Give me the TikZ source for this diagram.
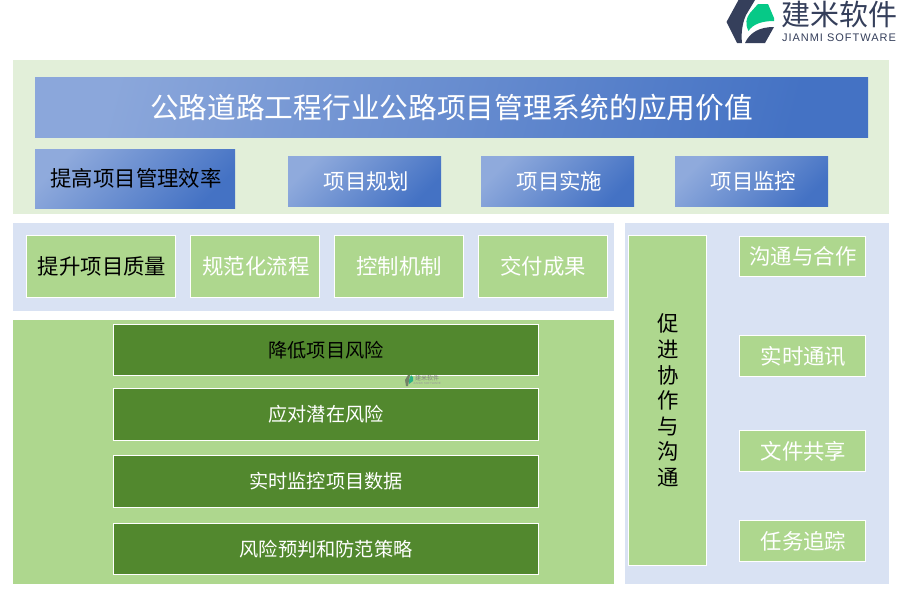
\documentclass[tikz,border=0pt]{standalone}
\usepackage{fontspec}
\usepackage{xcolor}
\setmainfont{Noto Sans CJK SC}
\setsansfont{Liberation Sans}
\newfontfamily\logofont[LetterSpace=9]{Liberation Sans}
\usetikzlibrary{
    positioning,
    shadings
}
\definecolor{panelgreen}{HTML}{E2EFD9}
\definecolor{panelblue}{HTML}{D9E2F3}
\definecolor{leafgreen}{HTML}{AED78E}
\definecolor{darkgreen}{HTML}{52882E}
\definecolor{gradlight}{HTML}{8FAADC}
\definecolor{graddark}{HTML}{4472C4}
\definecolor{logoblue}{HTML}{353F5B}
\definecolor{logogreen}{HTML}{06C987}
\tikzstyle{panel} = [
    rectangle,
    inner sep=0pt,
    outer sep=0pt,
    anchor=north west
]
\tikzstyle{gradbox} = [
    panel,
    align=center,
    text=white,
    font=\fontsize{21.4}{24}\selectfont,
    left color=gradlight,
    middle color=gradlight!80!graddark,
    right color=graddark,
    shading angle=45
]
\tikzstyle{leafbox} = [
    panel,
    draw=white,
    line width=1pt,
    fill=leafgreen,
    align=center,
    text=white,
    font=\fontsize{21.4}{25.6}\selectfont
]
\tikzstyle{riskbox} = [
    panel,
    draw=white,
    line width=1pt,
    fill=darkgreen,
    text=white,
    minimum width=425pt,
    minimum height=51pt,
    font=\fontsize{19.2}{22}\selectfont
]
\tikzset{nudge/.style={execute at begin node=\hspace*{#1}}}
\begin{document}
\begin{tikzpicture}[x=1pt, y=-1pt]
    \useasboundingbox (0,0) rectangle (900,600);
    \fill[white] (0,0) rectangle (900,600);

    \node[panel, fill=panelgreen, minimum width=876pt, minimum height=154pt] (toppanel) at (13,60) {};
    \node[panel, fill=panelblue, minimum width=601pt, minimum height=88pt] (qualitypanel) at (13,223) {};
    \node[panel, fill=leafgreen, minimum width=601pt, minimum height=264pt] (riskpanel) at (13,320) {};
    \node[panel, fill=panelblue, minimum width=264pt, minimum height=361pt] (commpanel) at (625,223) {};

    \node[gradbox, minimum width=833pt, minimum height=60.5pt, font=\fontsize{28.7}{32}\selectfont, left color=gradlight!95!graddark, middle color=gradlight!88!graddark, right color=graddark, shading angle=75] (title) at (35,77) {公路道路工程行业公路项目管理系统的应用价值};
    \node[gradbox, minimum width=200pt, minimum height=59.5pt, text=black, nudge=2pt] (efficiency) at (35,149) {提高项目管理效率};
    \node[gradbox, minimum width=153pt, minimum height=50.5pt, nudge=4pt] (planning) at (288,156) {项目规划};
    \node[gradbox, minimum width=153pt, minimum height=50.5pt, nudge=4pt] (execution) at (481,156) {项目实施};
    \node[gradbox, minimum width=153pt, minimum height=50.5pt, nudge=4pt] (monitoring) at (675,156) {项目监控};

    \node[leafbox, minimum width=149pt, minimum height=62pt, text=black, nudge=2pt] (quality) at (26.5,235.5) {提升项目质量};
    \node[leafbox, minimum width=129pt, minimum height=62pt, nudge=2pt] (process) at (190.5,235.5) {规范化流程};
    \node[leafbox, minimum width=129pt, minimum height=62pt] (control) at (334.5,235.5) {控制机制};
    \node[leafbox, minimum width=129pt, minimum height=62pt] (delivery) at (478.5,235.5) {交付成果};

    \node[riskbox, text=black] (riskdown) at (113.5,324.5) {降低项目风险};
    \node[riskbox, minimum height=52pt] (riskanswer) at (113.5,388.5) {应对潜在风险};
    \node[riskbox, minimum height=52pt] (riskdata) at (113.5,455.5) {实时监控项目数据};
    \node[riskbox] (riskplan) at (113.5,523.5) {风险预判和防范策略};

    \node[leafbox, minimum width=78pt, minimum height=330pt, text=black] (collab) at (628.5,235.5) {\hspace*{2pt}促\\\hspace*{2pt}进\\\hspace*{2pt}协\\\hspace*{2pt}作\\\hspace*{2pt}与\\\hspace*{2pt}沟\\\hspace*{2pt}通};
    \node[leafbox, minimum width=126pt, minimum height=40.5pt, nudge=1pt] (teamwork) at (739.5,236) {沟通与合作};
    \node[leafbox, minimum width=126pt, minimum height=41pt, nudge=2pt] (messaging) at (739.5,335.5) {实时通讯};
    \node[leafbox, minimum width=126pt, minimum height=41pt, nudge=2pt] (sharing) at (739.5,430.5) {文件共享};
    \node[leafbox, minimum width=126pt, minimum height=41pt, nudge=2pt] (tracking) at (739.5,520.5) {任务追踪};

    \fill[logoblue] (738.5,0) -- (755,0) -- (746,15) .. controls (742,24) and (741,34) .. (742,43) -- (737,43) -- (726.5,22) -- cycle;
    \fill[logoblue] (745,43) -- (765,43) -- (774,27) .. controls (760,27) and (750,32) .. (745,43) -- cycle;
    \fill[logogreen] (748.5,31) .. controls (745,24) and (746,18) .. (750,13) -- (758,4) -- (768,4) -- (774,18) -- (774,21) .. controls (762,21) and (753,24) .. (748.5,31) -- cycle;
    \node[inner sep=0pt, text=logoblue, font=\fontsize{29}{30}\selectfont] (logoname) at (839.5,14) {建米软件};
    \node[inner sep=0pt, text=logoblue, font=\logofont\fontsize{11}{12}\selectfont] (logosub) at (839,38) {JIANMI SOFTWARE};

    \fill[gray!70!darkgreen] (405,380) -- (408,375) -- (410,375) -- (408,386) -- (406,386) -- cycle;
    \fill[logogreen!70!gray] (409,380) -- (411,375) -- (413,377) -- (413,381) -- (409,384) -- cycle;
    \node[inner sep=0pt, text=gray, font=\fontsize{6}{7}\selectfont] (markname) at (427,378) {建米软件};
    \node[inner sep=0pt, text=gray!80, font=\sffamily\fontsize{3}{4}\selectfont] (marksub) at (427,383.5) {JIANMI SOFTWARE};
\end{tikzpicture}
\end{document}
